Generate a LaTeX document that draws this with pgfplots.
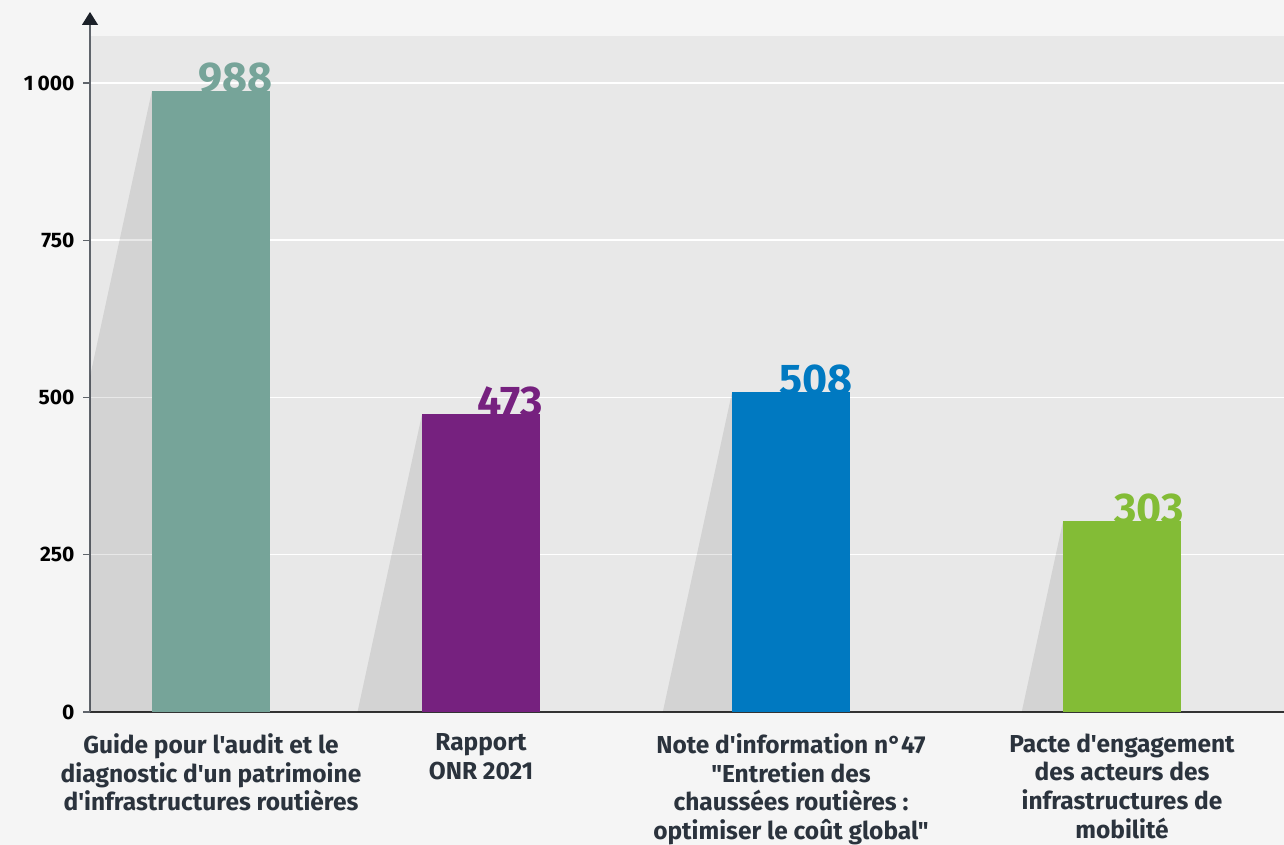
\documentclass[border=0pt]{standalone}
\usepackage{fontspec}
\setmainfont{Fira Sans}[Ligatures=TeXOff]
\usepackage{pgfplots}
\pgfplotsset{compat=1.18}
\usetikzlibrary{arrows.meta}
\definecolor{bg}{HTML}{F5F5F5}
\definecolor{plotbg}{HTML}{E8E8E8}
\definecolor{cA}{HTML}{76A499}
\definecolor{cB}{HTML}{76217F}
\definecolor{cC}{HTML}{0079C1}
\definecolor{cD}{HTML}{83BC36}
\definecolor{lab}{HTML}{2B333D}
\definecolor{yax}{HTML}{5F646B}
\definecolor{arr}{HTML}{1B2028}
\begin{document}
\begin{tikzpicture}[x=1pt,y=1pt]
\useasboundingbox (0,0) rectangle (1284,845);
\fill[bg] (0,0) rectangle (1284,845);
\begin{axis}[
  at={(90pt,133pt)}, anchor=south west,
  scale only axis, width=1194pt, height=676pt,
  xmin=90, xmax=1284, ymin=0, ymax=1074.7,
  /pgf/number format/assume math mode=true,
  axis background/.style={fill=plotbg},
  axis x line=bottom, axis y line=left,
  x axis line style={-, draw=black!80, line width=1.2pt},
  y axis line style={-{Triangle[width=16pt,length=13pt,color=arr]}, draw=yax, line width=1.2pt, shorten >=-24pt},
  ytick={0,250,500,750,1000},
  yticklabels={0,250,500,750,1\hspace{4pt}000},
  yticklabel style={font=\fontsize{21}{21}\selectfont\bfseries, text=black, xshift=-5pt},
  ymajorgrids,
  grid style={white, line width=1.5pt},
  ytick style={draw=yax, line width=1.2pt},
  major tick length=7pt, tick align=outside,
  xtick={211,481,791,1122},
  xticklabels={{Guide pour l'audit et le\\diagnostic d'un patrimoine\\d'infrastructures routières},
    {Rapport\\ONR 2021},
    {Note d'information n°47\\"Entretien des\\chaussées routières :\\optimiser le coût global"},
    {Pacte d'engagement\\des acteurs des\\infrastructures de\\mobilité}},
  xticklabel style={align=center, font=\fontsize{24.5}{28.7}\selectfont\bfseries, text=lab, yshift=-11pt},
  xtick style={draw=none},
  bars/.style={ybar, bar width=118, bar shift=0pt, draw=none,
    nodes near coords,
    nodes near coords style={font=\fontsize{43}{43}\selectfont\bfseries, anchor=base east, inner sep=0pt, xshift=62pt, yshift=-2pt}},
  shadow/.style={fill=black, fill opacity=0.09, draw=none},
]
% shadows
\addplot[shadow] coordinates {(152,988) (17.3,0) (152,0)};
\addplot[shadow] coordinates {(422,473) (357.5,0) (422,0)};
\addplot[shadow] coordinates {(732,508) (662.8,0) (732,0)};
\addplot[shadow] coordinates {(1063,303) (1021.7,0) (1063,0)};
% bars
\addplot[bars, fill=cA, nodes near coords style={text=cA}] coordinates {(211,988)};
\addplot[bars, fill=cB, nodes near coords style={text=cB}] coordinates {(481,473)};
\addplot[bars, fill=cC, nodes near coords style={text=cC}] coordinates {(791,508)};
\addplot[bars, fill=cD, nodes near coords style={text=cD}] coordinates {(1122,303)};
\end{axis}
\end{tikzpicture}
\end{document}
